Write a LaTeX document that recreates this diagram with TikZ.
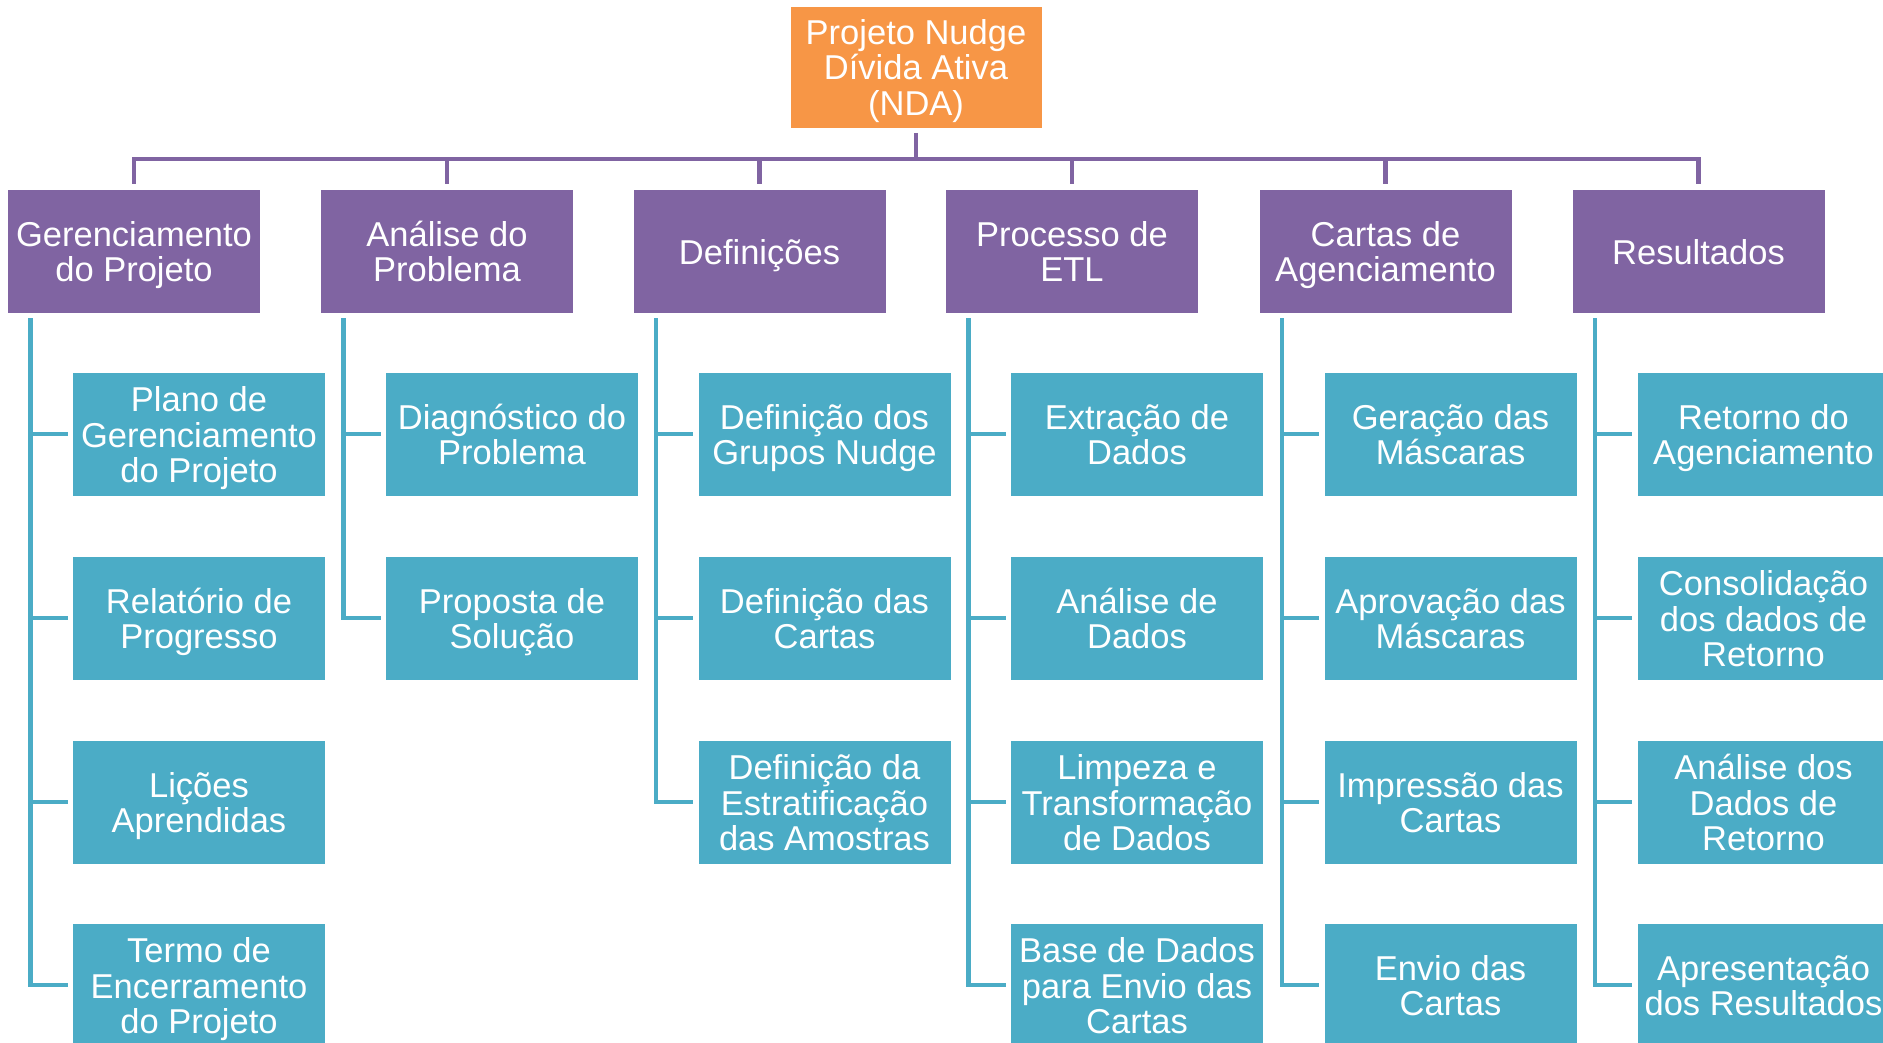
\documentclass[tikz,border=0pt]{standalone}
\usepackage{fontspec}
\setmainfont{Liberation Sans}
\usetikzlibrary{calc}
\definecolor{laranja}{HTML}{F79646}
\definecolor{roxo}{HTML}{8064A2}
\definecolor{azul}{HTML}{4BACC6}
% apoio para alinhar a primeira linha
\newcommand{\alto}{\rule{0pt}{16.8pt}}
\tikzset{
  caixa/.style={rectangle, draw=white, line width=0.4pt, text=white, align=center,
    minimum width=126.5pt, minimum height=62pt, inner sep=0pt, outer sep=2.5pt,
    font=\fontsize{17.25}{17.8}\selectfont,
    execute at end node={\rule[-3.8pt]{0pt}{3.8pt}}},
  topo/.style={caixa, fill=laranja, minimum width=126pt, minimum height=61pt},
  fase/.style={caixa, fill=roxo},
  item/.style={caixa, fill=azul},
  tronco/.style={draw=roxo, line width=2.4pt},
  ramo/.style={draw=azul, line width=2.2pt},
}

\begin{document}
\begin{tikzpicture}[x=0.5pt, y=-0.5pt]
      \useasboundingbox (0,0) rectangle (1883,1043);
      \clip (0,0) rectangle (1883,1043);
      \fill[white] (0,0) rectangle (1883,1043);
      % topo e fases
      \node[topo] (proj) at (916,67) {\alto Projeto Nudge\\Dívida Ativa\\(NDA)};
      \node[fase] (ger) at (134,251) {\alto Gerenciamento\\do Projeto};
      \node[fase] (ana) at (447,251) {\alto Análise do\\Problema};
      \node[fase] (def) at (759.5,251) {\alto Definições};
      \node[fase] (etl) at (1072,251) {\alto Processo de\\ETL};
      \node[fase] (car) at (1385.5,251) {\alto Cartas de\\Agenciamento};
      \node[fase] (res) at (1698.5,251) {\alto Resultados};
      % pacotes de trabalho
      \node[item] (ger1) at (199,434) {\alto Plano de\\Gerenciamento\\do Projeto};
      \node[item] (ger2) at (199,618) {\alto Relatório de\\Progresso};
      \node[item] (ger3) at (199,802) {\alto Lições\\Aprendidas};
      \node[item] (ger4) at (199,985) {\alto Termo de\\Encerramento\\do Projeto};
      \node[item] (ana1) at (512,434) {\alto Diagnóstico do\\Problema};
      \node[item] (ana2) at (512,618) {\alto Proposta de\\Solução};
      \node[item] (def1) at (824.5,434) {\alto Definição dos\\Grupos Nudge};
      \node[item] (def2) at (824.5,618) {\alto Definição das\\Cartas};
      \node[item] (def3) at (824.5,802) {\alto Definição da\\Estratificação\\das Amostras};
      \node[item] (etl1) at (1137,434) {\alto Extração de\\Dados};
      \node[item] (etl2) at (1137,618) {\alto Análise de\\Dados};
      \node[item] (etl3) at (1137,802) {\alto Limpeza e\\Transformação\\de Dados};
      \node[item] (etl4) at (1137,985) {\alto Base de Dados\\para Envio das\\Cartas};
      \node[item] (car1) at (1450.5,434) {\alto Geração das\\Máscaras};
      \node[item] (car2) at (1450.5,618) {\alto Aprovação das\\Máscaras};
      \node[item] (car3) at (1450.5,802) {\alto Impressão das\\Cartas};
      \node[item] (car4) at (1450.5,985) {\alto Envio das\\Cartas};
      \node[item] (res1) at (1763.5,434) {\alto Retorno do\\Agenciamento};
      \node[item] (res2) at (1763.5,618) {\alto Consolidação\\dos dados de\\Retorno};
      \node[item] (res3) at (1763.5,802) {\alto Análise dos\\Dados de\\Retorno};
      \node[item] (res4) at (1763.5,985) {\alto Apresentação\\dos Resultados};
      % barramento roxo
      \coordinate (bus) at (0,159);
      \draw[tronco] (ger.north) -- (ger.north |- bus) -- (res.north |- bus) -- (res.north);
      \draw[tronco] (proj.south) -- (proj.south |- bus);
      \draw[tronco] (ana.north |- bus) -- (ana.north);
      \draw[tronco] (def.north |- bus) -- (def.north);
      \draw[tronco] (etl.north |- bus) -- (etl.north);
      \draw[tronco] (car.north |- bus) -- (car.north);
      % ramos azuis
      \coordinate (gerT) at ($(ger.south west)+(28,0)$);
      \coordinate (anaT) at ($(ana.south west)+(28,0)$);
      \coordinate (defT) at ($(def.south west)+(28,0)$);
      \coordinate (etlT) at ($(etl.south west)+(28,0)$);
      \coordinate (carT) at ($(car.south west)+(28,0)$);
      \coordinate (resT) at ($(res.south west)+(28,0)$);
      \draw[ramo] (gerT) |- (ger1.west) (gerT) |- (ger2.west) (gerT) |- (ger3.west) (gerT) |- (ger4.west);
      \draw[ramo] (anaT) |- (ana1.west) (anaT) |- (ana2.west);
      \draw[ramo] (defT) |- (def1.west) (defT) |- (def2.west) (defT) |- (def3.west);
      \draw[ramo] (etlT) |- (etl1.west) (etlT) |- (etl2.west) (etlT) |- (etl3.west) (etlT) |- (etl4.west);
      \draw[ramo] (carT) |- (car1.west) (carT) |- (car2.west) (carT) |- (car3.west) (carT) |- (car4.west);
      \draw[ramo] (resT) |- (res1.west) (resT) |- (res2.west) (resT) |- (res3.west) (resT) |- (res4.west);
\end{tikzpicture}
\end{document}
